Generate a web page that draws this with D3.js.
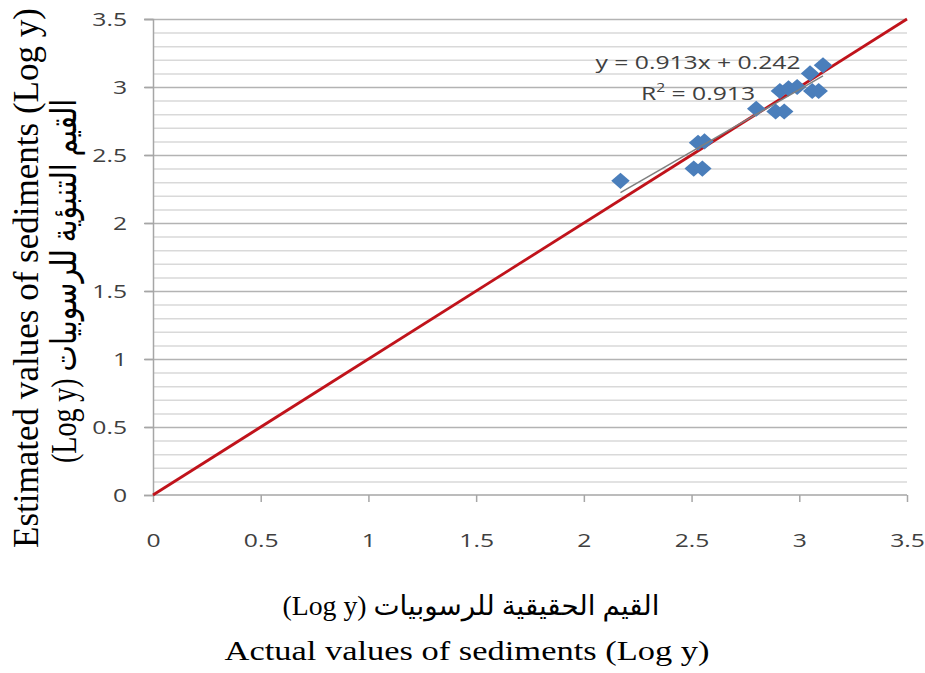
<!DOCTYPE html>
<html>
<head>
<meta charset="utf-8">
<script src="https://cdn.jsdelivr.net/npm/d3@7"></script>
<style>
  body { margin: 0; background: #fff; }
</style>
</head>
<body>
<script>
let width = 925, height = 673;
let margin = {left: 153, top: 19, right: 18, bottom: 178};
let stretch = 1.3; // the original picture is wider than tall

// actual vs estimated (log y)
let actual =    [2.17, 2.53, 2.56, 2.51, 2.55, 2.80, 2.89, 2.93, 2.91, 2.95, 2.99, 3.06, 3.09, 3.05, 3.11];
let estimated = [2.31, 2.59, 2.60, 2.40, 2.40, 2.84, 2.82, 2.82, 2.97, 2.99, 3.00, 2.97, 2.97, 3.10, 3.16];
let tickValues = [0, 0.5, 1, 1.5, 2, 2.5, 3, 3.5];
let slope = 0.913, intercept = 0.242, r2 = 0.913;

let svg = d3.select("body").append("svg")
    .attr("width", width)
    .attr("height", height);

let x = d3.scaleLinear().domain([0, 3.5]).range([margin.left, width - margin.right]);
let y = d3.scaleLinear().domain([0, 3.5]).range([height - margin.bottom, margin.top]);

let sans = "'Open Sans', 'Noto Sans', sans-serif";
let serif = "'Liberation Serif', 'DejaVu Serif', 'DejaVu Sans', serif";

// grid: minor every 0.1, major every 0.5
let minor = d3.range(0, 36).map(d => d / 10);
svg.append("g").selectAll("line.minor").data(minor.filter(d => Math.round(d * 10) % 5 != 0))
    .enter().append("line")
    .attr("x1", x(0)).attr("x2", x(3.5))
    .attr("y1", d => y(d) + 0.5).attr("y2", d => y(d) + 0.5)
    .attr("stroke", "#d9d9d9").attr("stroke-width", 1.5);

svg.append("g").selectAll("line.major").data(tickValues.filter(d => d > 0))
    .enter().append("line")
    .attr("x1", x(0) - 8).attr("x2", x(3.5))
    .attr("y1", d => y(d) + 0.5).attr("y2", d => y(d) + 0.5)
    .attr("stroke", "#b3b3b3").attr("stroke-width", 1.5);

// axes
let xAxis = d3.axisBottom(x).tickValues(tickValues).tickSize(7).tickFormat(d3.format("~g"));
let yAxis = d3.axisLeft(y).tickValues(tickValues).tickSize(9).tickFormat(d3.format("~g"));

let gx = svg.append("g").attr("transform", `translate(0,${y(0)})`).call(xAxis);
let gy = svg.append("g").attr("transform", `translate(${x(0)},0)`).call(yAxis);

[gx, gy].forEach(g => {
    g.select(".domain").attr("stroke", "#a6a6a6").attr("stroke-width", 1.5);
    g.selectAll(".tick line").attr("stroke", "#a6a6a6").attr("stroke-width", 1.5);
    g.selectAll(".tick text")
        .attr("font-family", sans)
        .attr("font-size", 19)
        .attr("fill", "#404040")
        .attr("transform", `scale(${stretch},1)`);
});
gx.select(".domain").attr("d", `M${x(0)},0H${x(3.5)}`);
gx.selectAll(".tick line").attr("y1", 0);
gx.selectAll(".tick text").attr("y", 0).attr("dy", 52);
gy.selectAll(".tick text").attr("x", -26 / stretch).attr("dy", "0.36em");

// 1:1 line
svg.append("line")
    .attr("x1", x(0)).attr("y1", y(0))
    .attr("x2", x(3.5)).attr("y2", y(3.5))
    .attr("stroke", "#c0131b").attr("stroke-width", 2.8);

// points
let pts = actual.map((d, i) => ({a: d, e: estimated[i]}));
svg.append("g").selectAll("path.pt").data(pts)
    .enter().append("path")
    .attr("class", "pt")
    .attr("d", d3.symbol().type(d3.symbolDiamond2).size(165))
    .attr("transform", d => `translate(${x(d.a)},${y(d.e)}) scale(1.15,1)`)
    .attr("fill", "#4a7ebb");

// trend line
let xmin = d3.min(actual), xmax = d3.max(actual);
svg.append("line")
    .attr("x1", x(xmin)).attr("y1", y(slope * xmin + intercept))
    .attr("x2", x(xmax)).attr("y2", y(slope * xmax + intercept))
    .attr("stroke", "#7f7f7f").attr("stroke-width", 1.5);

// equation
let eq = svg.append("g").attr("transform", `translate(698,0) scale(${stretch},1)`)
    .append("text")
    .attr("x", 0).attr("y", 69)
    .attr("text-anchor", "middle")
    .attr("font-family", sans)
    .attr("font-size", 19)
    .attr("fill", "#404040");
eq.append("tspan").attr("x", 0).text(`y = ${slope}x + ${intercept}`);
let r = eq.append("tspan").attr("x", 0).attr("dy", 31);
r.append("tspan").text("R");
r.append("tspan").attr("font-size", 12).attr("dy", -8).text("2");
r.append("tspan").attr("dy", 8).text(` = ${r2}`);

// axis titles
function title(tx, ty, rotated, len, text) {
    let g = svg.append("g").attr("transform", rotated
        ? `translate(${tx},${ty}) scale(${stretch},1) rotate(-90)`
        : `translate(${tx},${ty})`);
    g.append("text")
        .attr("text-anchor", "middle")
        .attr("font-family", serif).attr("font-size", 27).attr("fill", "#000")
        .attr("textLength", len)
        .attr("lengthAdjust", "spacingAndGlyphs")
        .text(text);
}
title(38, 278, true, 540, "Estimated values of sediments (Log y)");
title(76, 281, true, 364, "(Log y) القيم التنبؤية للرسوبيات");
title(471, 615, false, 377, "(Log y) القيم الحقيقية للرسوبيات");
title(467, 660, false, 485, "Actual values of sediments (Log y)");
</script>
</body>
</html>
